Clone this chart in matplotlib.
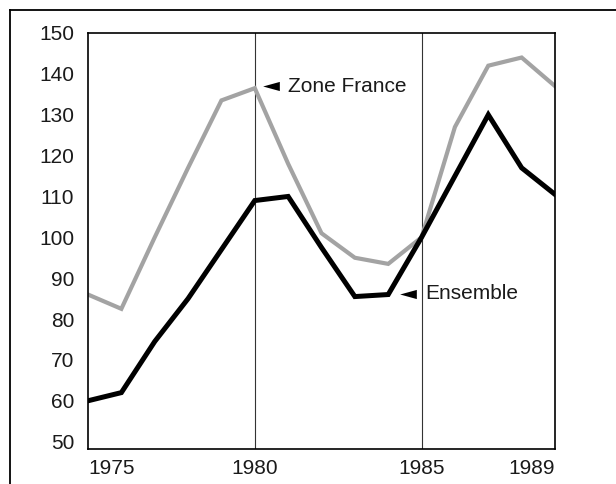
import matplotlib
matplotlib.use("Agg")
import matplotlib.pyplot as plt
from matplotlib.lines import Line2D
from matplotlib.path import Path

# indices, base 100 = 1985
years = [1975, 1976, 1977, 1978, 1979, 1980, 1981, 1982,
         1983, 1984, 1985, 1986, 1987, 1988, 1989]
zone_france = [86, 82.5, 100, 117, 133.5, 136.5, 118, 101,
               95, 93.5, 100, 127, 142, 144, 137]
ensemble = [60, 62, 74.5, 85, 97, 109, 110, 97.5,
            85.5, 86, 100, 115, 130, 117, 110.5]

y_ticks = [50, 60, 70, 80, 90, 100, 110, 120, 130, 140, 150]
x_ticks = [1975, 1980, 1985, 1989]
x_labels = ["1975", "1980", "1985", "1989"]
marked_years = [1980, 1985]

plt.rcParams["font.family"] = ["Liberation Sans", "DejaVu Sans"]
plt.rcParams["font.size"] = 15

fig = plt.figure(figsize=(6.16, 4.84), dpi=100)
ax = fig.add_axes([88 / 616, 1 - 449 / 484, (555 - 88) / 616, (449 - 33) / 484])

for yr in marked_years:
    ax.axvline(yr, color="#333333", lw=0.8, zorder=1)

ax.plot(years, zone_france, color="#a3a3a3", lw=3.0, solid_joinstyle="miter", zorder=2)
ax.plot(years, ensemble, color="black", lw=3.6, solid_joinstyle="miter", zorder=3)

ax.set_xlim(1975, 1989)
ax.set_yticks(y_ticks)
ax.set_ylim(48.2, 150)
ax.set_xticks(x_ticks)
ax.set_xticklabels(x_labels)
for lab, ha in zip(ax.get_xticklabels(), ["left", "center", "center", "right"]):
    lab.set_ha(ha)
ax.tick_params(length=0, pad=7, colors="#1a1a1a")
ax.tick_params(axis="y", pad=10)
for s in ax.spines.values():
    s.set_linewidth(1.2)

# flat pointer triangle, like the print
pointer = Path([(-1, 0), (1, 0.55), (1, -0.55), (-1, 0)],
               [Path.MOVETO, Path.LINETO, Path.LINETO, Path.CLOSEPOLY])

ax.plot([1980.5], [137], marker=pointer, ms=12, color="black", mew=0, clip_on=False)
ax.text(1981.0, 137, "Zone France", va="center", ha="left", color="#1a1a1a")
ax.plot([1984.58], [86.2], marker=pointer, ms=12, color="black", mew=0, clip_on=False)
ax.text(1985.1, 86.2, "Ensemble", va="center", ha="left", color="#1a1a1a")

# outer frame, cut at right and bottom
fig.add_artist(Line2D([10 / 616, 10 / 616], [0, 1 - 10 / 484], transform=fig.transFigure,
                      color="black", lw=1.3))
fig.add_artist(Line2D([10 / 616, 1], [1 - 10 / 484, 1 - 10 / 484], transform=fig.transFigure,
                      color="black", lw=1.3))

fig.savefig("out.png", dpi=100)
